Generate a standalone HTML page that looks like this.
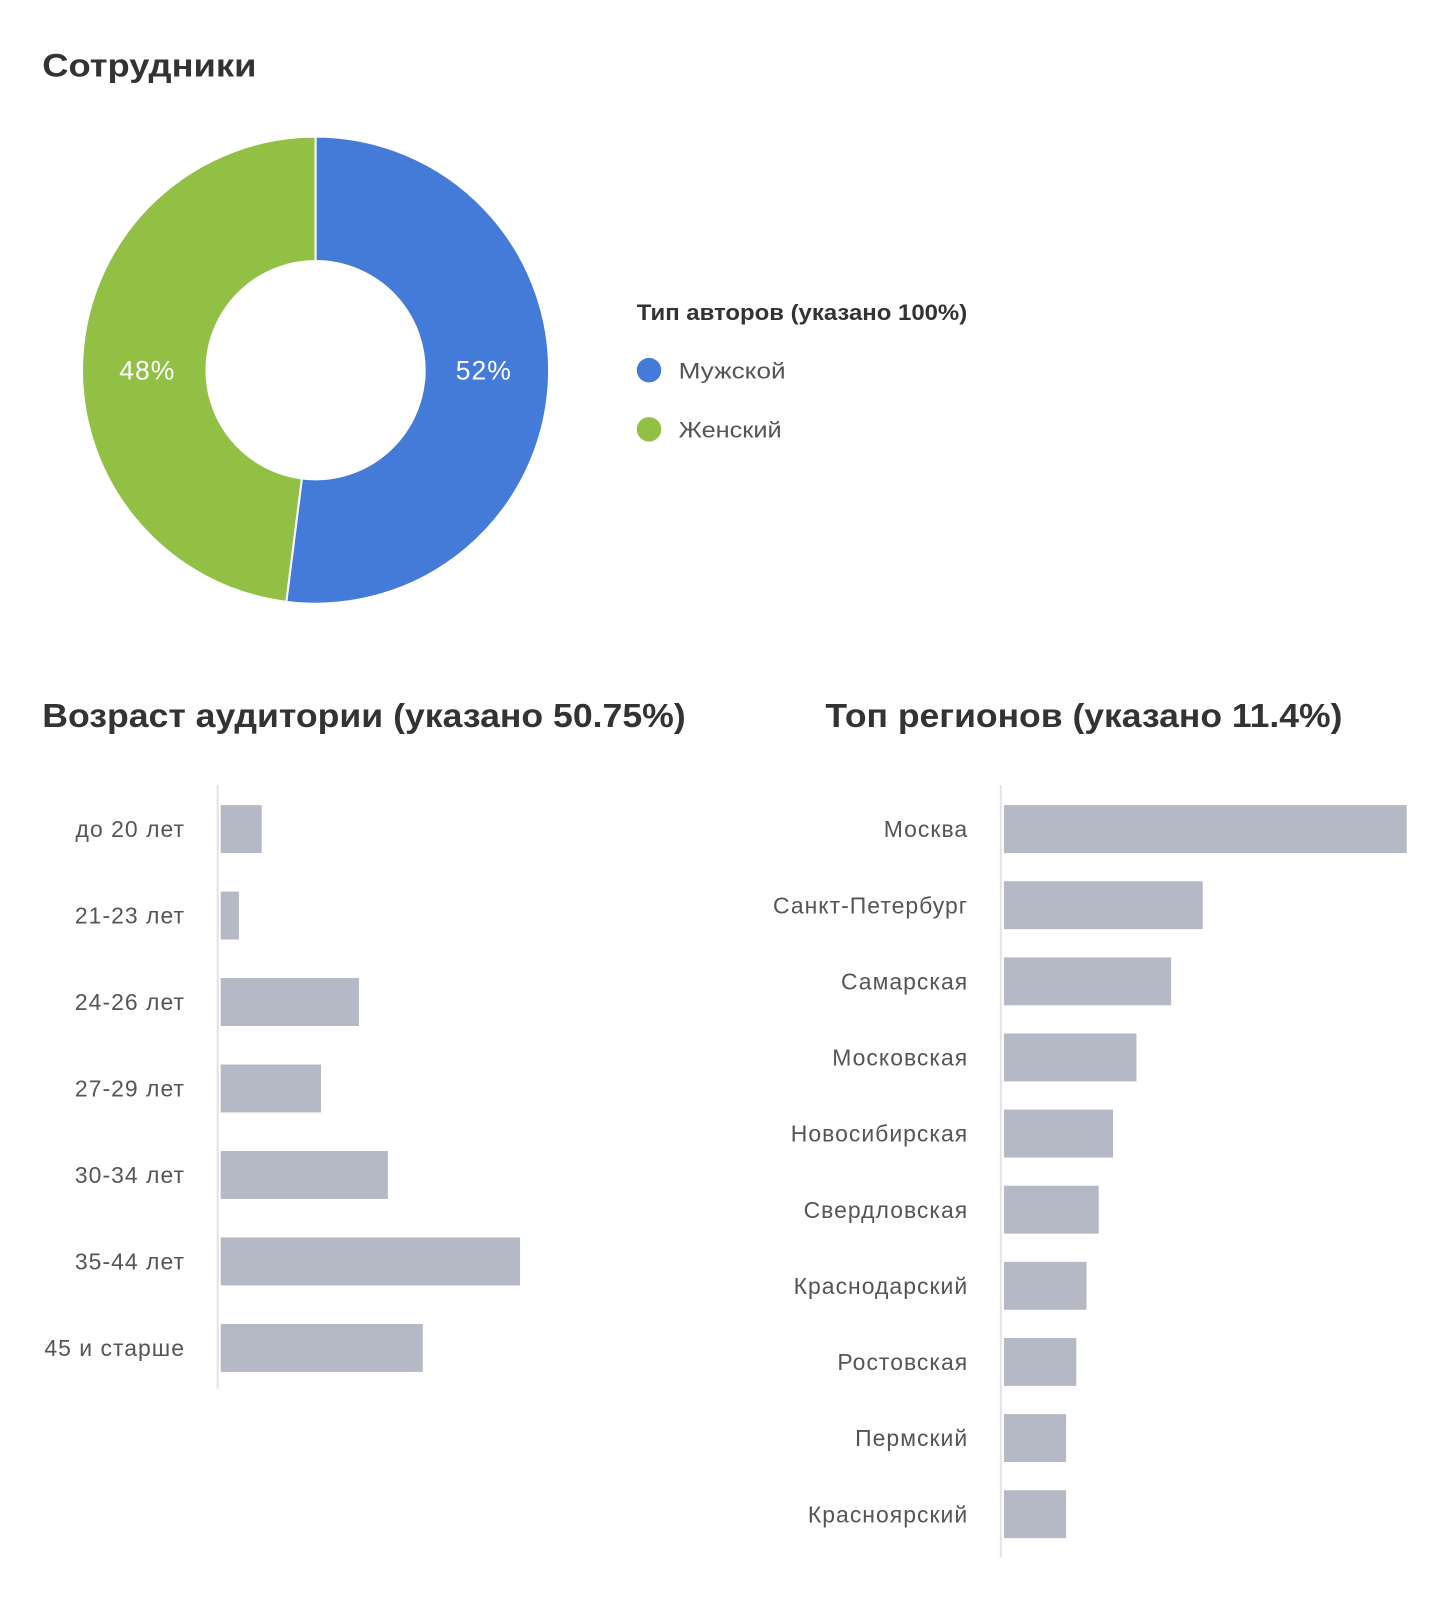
<!DOCTYPE html>
<html><head><meta charset="utf-8"><style>
html,body{margin:0;padding:0;background:#fff;}
svg{display:block;font-family:"Liberation Sans","DejaVu Sans",sans-serif;}
.lbl{letter-spacing:1px;}
</style></head><body>
<svg id="root" width="1451" height="1600" viewBox="0 0 1422 1569">
<text x="41" y="75" font-size="32" font-weight="bold" fill="#333" textLength="210" lengthAdjust="spacingAndGlyphs">Сотрудники</text>
<g id="donut"></g>
<text x="624" y="314" font-size="22" font-weight="bold" fill="#333" textLength="324" lengthAdjust="spacingAndGlyphs">Тип авторов (указано 100%)</text>
<g><circle cx="636" cy="363" r="12" fill="#457bd8"/><text x="665" y="371" font-size="22" fill="#555" textLength="105" lengthAdjust="spacingAndGlyphs">Мужской</text></g>
<g><circle cx="636" cy="421" r="12" fill="#91c045"/><text x="665" y="429" font-size="22" fill="#555" textLength="101" lengthAdjust="spacingAndGlyphs">Женский</text></g>
<text x="41" y="713" font-size="33" font-weight="bold" fill="#333" textLength="631" lengthAdjust="spacingAndGlyphs">Возраст аудитории (указано 50.75%)</text>
<text x="809" y="713" font-size="33" font-weight="bold" fill="#333" textLength="507" lengthAdjust="spacingAndGlyphs">Топ регионов (указано 11.4%)</text>
<line x1="213" y1="770" x2="213" y2="1362" stroke="#e3e3e3" stroke-width="2"/>
<line x1="981" y1="770" x2="981" y2="1527" stroke="#e3e3e3" stroke-width="2"/>
<g id="ageBars"></g>
<g id="regBars"></g>
</svg>
<script>
const genderLabels = ["Мужской", "Женский"];
const genderValues = [52, 48];
const ageCategories = ["до 20 лет","21-23 лет","24-26 лет","27-29 лет","30-34 лет","35-44 лет","45 и старше"];
const ageValues = [2.7, 1.2, 9.1, 6.6, 11.0, 19.7, 13.3];
const regionCategories = ["Москва","Санкт-Петербург","Самарская","Московская","Новосибирская","Свердловская","Краснодарский","Ростовская","Пермский","Красноярский"];
const regionValues = [39.5, 19.5, 16.4, 13.0, 10.7, 9.3, 8.1, 7.1, 6.1, 6.1];

const NS = "http://www.w3.org/2000/svg";
function mk(tag, attrs, parent){const e=document.createElementNS(NS,tag);for(const k in attrs)e.setAttribute(k,attrs[k]);parent.appendChild(e);return e;}

const donut = document.getElementById('donut');
const cx=309, cy=363, R=229, r=107;
const colors=["#457bd8","#91c045"];
const total = genderValues.reduce((a,b)=>a+b,0);
let ang=0;
genderValues.forEach((v,i)=>{
  const a0=ang, a1=ang+v/total*2*Math.PI; ang=a1;
  const p=(rad,a)=>[cx+rad*Math.sin(a), cy-rad*Math.cos(a)];
  const large=(a1-a0)>Math.PI?1:0;
  const [x0,y0]=p(R,a0),[x1,y1]=p(R,a1),[x2,y2]=p(r,a1),[x3,y3]=p(r,a0);
  const path=mk('path',{d:`M${x0},${y0}A${R},${R} 0 ${large} 1 ${x1},${y1}L${x2},${y2}A${r},${r} 0 ${large} 0 ${x3},${y3}Z`,fill:colors[i],stroke:'#fff','stroke-width':2},donut);
  
  
  const am=(a0+a1)/2;
  const side = Math.sin(am)>=0?1:-1;
  const lx = cx + side*(R+r)/2 - side*3;
  const t=mk('text',{x:lx,y:cy+9,'font-size':26,fill:'#fff','text-anchor':'middle',class:'lbl'},donut);
  t.textContent=Math.round(v/total*100)+'%';
  
  
});

function hbars(group, cats, vals, x0, y0, step, pxPer, labelX, prefix){
  const g=document.getElementById(group);
  cats.forEach((c,i)=>{
    const yc=y0+i*step;
    const b=mk('rect',{x:x0,y:yc-23.5,width:vals[i]*pxPer,height:47,fill:'#b5b9c5'},g);
    
    
    const t=mk('text',{x:labelX,y:yc+8,'font-size':22.5,fill:'#555','text-anchor':'end',class:'lbl'},g);
    t.textContent=c;
    
    
  });
}
hbars('ageBars', ageCategories, ageValues, 216, 813, 84.8, 14.9, 181, 'age');
hbars('regBars', regionCategories, regionValues, 984, 813, 74.65, 10, 949, 'region');
</script>
</body></html>
